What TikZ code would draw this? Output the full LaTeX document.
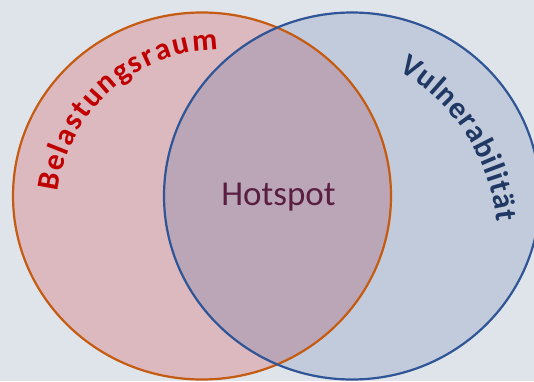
\documentclass[tikz,border=0pt]{standalone}
\usepackage{fontspec}
\setmainfont{Carlito}
\usetikzlibrary{decorations.text}

\definecolor{bgcol}{HTML}{DFE3EA}
\definecolor{loadfill}{HTML}{DBB9BF}
\definecolor{vulnfill}{HTML}{C2CBDB}
\definecolor{hotfill}{HTML}{BAA6B6}
\definecolor{loadline}{HTML}{C55A11}
\definecolor{vulnline}{HTML}{2F5597}
\definecolor{loadtext}{HTML}{C00000}
\definecolor{vulntext}{HTML}{1F3864}
\definecolor{hottext}{HTML}{5A1E40}

\newcommand\arcfont{\bfseries\fontsize{31pt}{31pt}\selectfont}

\tikzset{
  ring/.style={line width=2.2pt},
  arclabel/.style={decorate, decoration={text along path,
      text align=fit to path, text color=#1}},
}

\begin{document}
\begin{tikzpicture}[x=1pt,y=1pt]
  % canvas
  \fill[bgcol] (0,0) rectangle (534,381);
  \useasboundingbox (0,0) rectangle (534,381);

  % the two sets
  \fill[loadfill] (202,185) ellipse [x radius=189, y radius=183.5];
  \fill[vulnfill] (352,185) ellipse [x radius=188, y radius=183.5];
  % their overlap
  \begin{scope}
    \clip (202,185) ellipse [x radius=189, y radius=183.5];
    \fill[hotfill] (352,185) ellipse [x radius=188, y radius=183.5];
  \end{scope}
  \draw[ring, loadline] (202,185) ellipse [x radius=189, y radius=183.5];
  \draw[ring, vulnline] (352,185) ellipse [x radius=188, y radius=183.5];

  % curved set labels
  \path[arclabel=loadtext, decoration={text={|\arcfont|Belastungsraum}}]
    (219,168.7) ++(172.8:162.3) arc[start angle=172.8, end angle=90.4, radius=162.3];
  \path[arclabel=vulntext, decoration={text={|\arcfont|Vulnerabilität}}]
    (300.5,139.1) ++(60.3:197.5) arc[start angle=60.3, end angle=5.8, radius=197.5];

  % overlap label
  \node[anchor=base, text=hottext, font=\fontsize{35pt}{35pt}\selectfont, inner sep=0pt]
    (hot) at (278.5,176) {Hotspot};
\end{tikzpicture}
\end{document}
